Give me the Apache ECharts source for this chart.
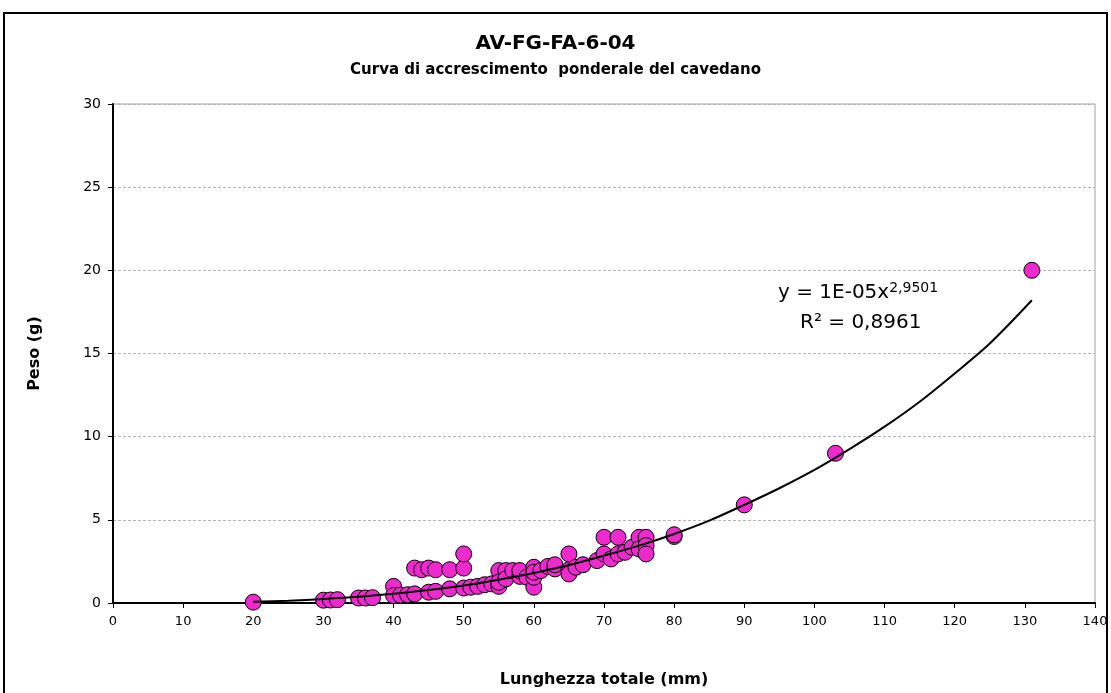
<!DOCTYPE html>
<html>
<head>
<meta charset="utf-8">
<script src="https://cdn.jsdelivr.net/npm/echarts@6/dist/echarts.min.js"></script>
<style>
  html, body { margin: 0; padding: 0; background: #fff; }
  #chart { width: 1111px; height: 693px; }
</style>
</head>
<body>
<div id="chart"></div>
<script>
// lunghezza totale (mm) e peso (g) dei singoli esemplari
var lunghezza = [20, 30, 31, 32, 35, 36, 37, 40, 40, 41, 42, 43,
	43, 44, 45, 46, 48, 50, 50, 45, 46, 48, 50, 51, 52, 53, 54,
	55, 56, 55, 55, 56, 57, 58, 58, 59, 60, 60, 60, 60, 61, 62, 63, 63,
	65, 65, 65, 66, 67, 69, 70, 70, 71, 72, 72, 73, 74,
	75, 76, 75, 76, 76, 80, 80, 90, 103, 131];
var peso = [0.05, 0.17, 0.18, 0.2, 0.3, 0.3, 0.32, 1.0, 0.45, 0.47, 0.5, 0.55,
	2.1, 2.0, 2.1, 2.0, 2.0, 2.1, 2.95, 0.65, 0.7, 0.85, 0.9, 0.95, 1.0, 1.1, 1.15,
	1.95, 1.95, 1.0, 1.25, 1.45, 1.95, 1.6, 1.95, 1.55, 0.95, 2.15, 1.55, 1.85, 1.95, 2.2, 2.05, 2.3,
	2.95, 2.0, 1.75, 2.15, 2.3, 2.55, 2.95, 3.95, 2.65, 3.95, 2.95, 3.05, 3.35,
	3.95, 3.95, 3.25, 3.45, 2.95, 4.0, 4.1, 5.9, 9.0, 20.0];

// linea di tendenza (potenza)
var trendX = [20, 25, 30, 35, 40, 45, 50, 55, 60, 65, 70, 75, 80, 85, 90,
	95, 100, 105, 110, 115, 120, 125, 131];
var trendY = [0.07, 0.14, 0.24, 0.37, 0.55, 0.78, 1.05, 1.4, 1.8, 2.28, 2.85, 3.45, 4.15, 4.95, 5.9,
	6.9, 8.0, 9.25, 10.6, 12.1, 13.8, 15.6, 18.2];

var xTicks = { min: 0, max: 140, interval: 10 };
var yTicks = { min: 0, max: 30, interval: 5 };

var font = 'DejaVu Sans';

var punti = [];
for (var i = 0; i < lunghezza.length; i++) {
	punti.push([lunghezza[i], peso[i]]);
}
var tendenza = [];
for (var j = 0; j < trendX.length; j++) {
	tendenza.push([trendX[j], trendY[j]]);
}

var option = {
	animation : false,
	backgroundColor : '#fff',
	title : [
		{
			text : 'AV-FG-FA-6-04',
			left : 'center',
			top : 29,
			textStyle : { fontFamily : font, fontSize : 20, fontWeight : 'bold', color : '#000' }
		},
		{
			text : 'Curva di accrescimento  ponderale del cavedano',
			left : 'center',
			top : 58,
			textStyle : { fontFamily : font, fontSize : 15, fontWeight : 'bold', color : '#000' }
		}
	],
	grid : {
		left : 113,
		right : 16,
		top : 104,
		bottom : 89,
		show : true,
		borderColor : '#a0a0a0',
		borderWidth : 1
	},
	xAxis : {
		type : 'value',
		min : xTicks.min,
		max : xTicks.max,
		interval : xTicks.interval,
		name : 'Lunghezza totale (mm)',
		nameLocation : 'middle',
		nameGap : 69,
		nameTextStyle : { fontFamily : font, fontSize : 16, fontWeight : 'bold', color : '#000' },
		axisLine : { lineStyle : { color : '#000', width : 2 } },
		axisTick : { lineStyle : { color : '#000' }, length : 5 },
		axisLabel : { fontFamily : font, fontSize : 13, color : '#000', margin : 12 },
		splitLine : { show : false }
	},
	yAxis : {
		type : 'value',
		min : yTicks.min,
		max : yTicks.max,
		interval : yTicks.interval,
		name : 'Peso (g)',
		nameLocation : 'middle',
		nameGap : 70,
		nameTextStyle : { fontFamily : font, fontSize : 16, fontWeight : 'bold', color : '#000' },
		axisLine : { show : true, lineStyle : { color : '#000', width : 2 } },
		axisTick : { show : true, lineStyle : { color : '#000' }, length : 5 },
		axisLabel : { fontFamily : font, fontSize : 14, color : '#000', margin : 12 },
		splitLine : { show : true, lineStyle : { color : '#b4b4b4', type : [3, 2], width : 1 } }
	},
	series : [
		{
			name : 'Peso',
			type : 'scatter',
			symbol : 'circle',
			symbolSize : 16,
			itemStyle : { color : '#EE2ACF', borderColor : '#000', borderWidth : 1, opacity : 1 },
			data : punti,
			z : 2
		},
		{
			name : 'Tendenza',
			type : 'line',
			smooth : 0.3,
			showSymbol : false,
			lineStyle : { color : '#000', width : 2 },
			data : tendenza,
			z : 3
		}
	],
	graphic : [
		{
			type : 'rect',
			shape : { x : 4, y : 13, width : 1103, height : 700 },
			style : { fill : 'none', stroke : '#000', lineWidth : 2 },
			silent : true
		},
		{
			type : 'text',
			left : 778,
			top : 281,
			style : {
				text : '{b|y = 1E-05x}{s|2,9501}',
				rich : {
					b : { fontFamily : font, fontSize : 20, color : '#000' },
					s : { fontFamily : font, fontSize : 14, color : '#000', verticalAlign : 'top', padding : [0, 0, 10, 0] }
				}
			}
		},
		{
			type : 'text',
			left : 800,
			top : 313,
			style : { text : 'R² = 0,8961', fontFamily : font, fontSize : 20, fill : '#000' }
		}
	]
};

var chart = echarts.init(document.getElementById('chart'));
chart.setOption(option);
</script>
</body>
</html>
